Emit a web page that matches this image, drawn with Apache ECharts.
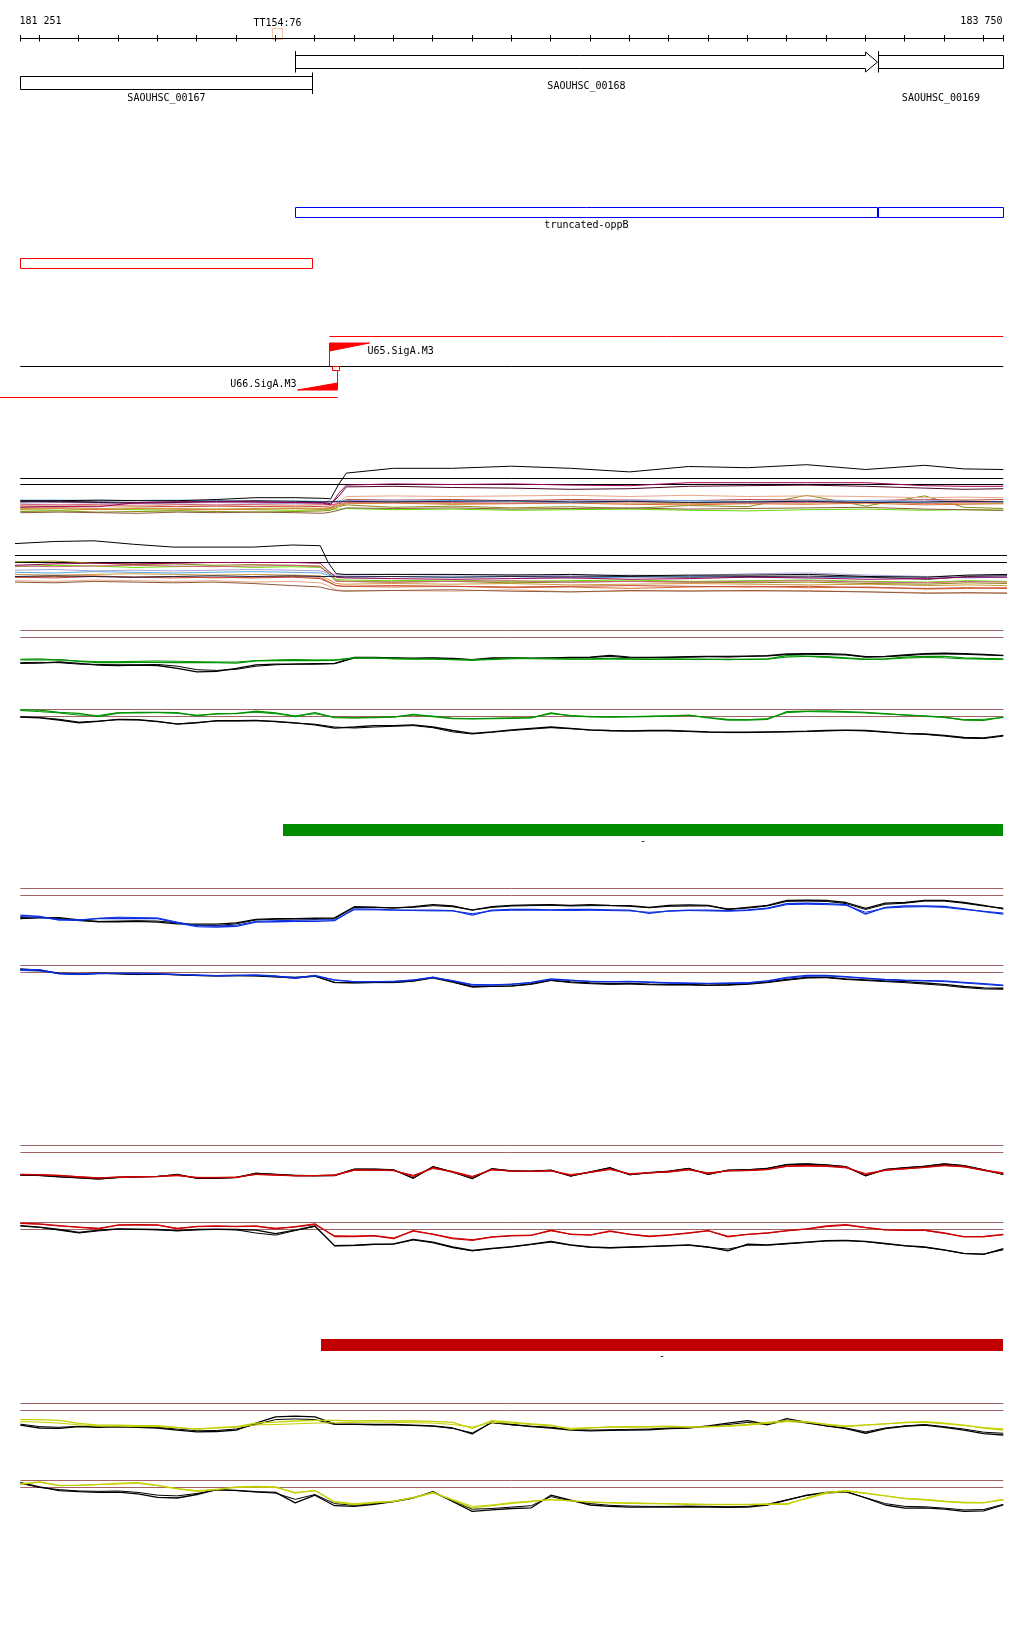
<!DOCTYPE html>
<html>
<head>
<meta charset="utf-8">
<title>Genome browser tracks</title>
<script src="https://cdn.jsdelivr.net/npm/echarts@6/dist/echarts.min.js"></script>
<style>
html,body{margin:0;padding:0;background:#ffffff;}
#chart{width:1024px;height:1640px;}
</style>
</head>
<body>
<div id="chart"></div>
<script>
// ===================== DATA =====================
const VIEW_START = 181251;
const VIEW_END = 183750;
const rulerTicks = [181300,181400,181500,181600,181700,181800,181900,182000,182100,182200,182300,182400,182500,182600,182700,182800,182900,183000,183100,183200,183300,183400,183500,183600,183700];
const rulerEndLabels = ['181 251', '183 750'];
const markerName = 'TT154:76';
const markerRange = [181893, 181918];

const geneNames = ['SAOUHSC_00167', 'SAOUHSC_00168', 'SAOUHSC_00169'];
const geneStart = [181100, 181950, 183434];
const geneEnd = [181993, 183430, 183900];
const geneStrand = [-1, 1, 1];

const oppBName = 'truncated-oppB';
const oppBStart = [181950, 183432];
const oppBEnd = [183430, 183750];

const regionStart = [181251];
const regionEnd = [181994];

const promoterNames = ['U65.SigA.M3', 'U66.SigA.M3'];
const promoterTss = [182036, 182058];
const promoterStrand = [1, -1];
const promoterReach = [183750, 181100];
const tssBox = [182044, 182063];

const greenBlock = [181920, 183750];
const redBlock = [182016, 183750];
const blockLabel = '-';

const refLevels = [10, 9];

// positions (bp) for the dense panels
const denseX = [181251,181350,181450,181550,181650,181750,181850,181950,182020,182040,182060,182080,182200,182350,182500,182650,182800,182950,183100,183250,183400,183550,183650,183750];

// dense panel A
const dA_black   = [6.3,6.3,6.4,6.3,6.3,6.5,6.8,6.8,6.7,6.6,9.0,10.9,11.7,11.7,12.05,11.7,11.1,12.0,11.8,12.3,11.5,12.2,11.6,11.5];
const dA_magenta = [5.2,5.3,5.3,6.0,6.1,6.1,6.1,6.0,5.9,5.6,7.5,8.9,9.1,9.0,9.1,8.9,8.8,9.3,9.3,9.3,9.3,8.8,8.7,8.7];
const dA_maroon  = [6.2,6.1,6.0,5.9,6.0,6.2,6.1,6.0,6.0,5.8,7.0,8.6,8.7,8.5,8.4,8.2,8.3,8.7,8.8,8.9,8.7,8.4,8.2,8.3];
const dA_sky     = [6.4,6.4,6.3,6.35,6.4,6.3,6.2,6.25,6.2,6.1,6.3,6.2,6.2,6.3,6.2,6.0,6.2,6.3,6.1,6.2,6.3,6.0,6.2,6.1];
const dA_orange  = [4.9,5.0,4.8,5.0,4.9,4.8,4.9,5.0,4.9,5.0,5.5,5.8,5.9,5.7,5.8,5.9,5.7,5.6,5.8,5.7,5.9,5.6,5.7,5.8];
const dA_olive   = [4.5,4.6,4.4,4.5,4.6,4.5,4.4,4.5,4.6,4.7,5.3,5.6,5.2,5.4,5.1,5.3,5.0,5.5,5.3,7.2,5.4,7.1,5.2,5.0];
const dA_lime    = [4.8,4.7,4.9,4.8,4.7,4.9,4.8,4.7,4.8,4.9,4.9,5.0,4.8,4.9,4.7,4.8,4.9,4.7,4.6,4.8,4.9,4.7,4.8,4.7];
const dA_salmon  = [5.5,5.6,5.5,5.4,5.6,5.5,5.6,5.5,5.6,5.5,6.0,7.0,7.1,7.0,7.1,7.2,7.0,7.2,7.0,7.1,7.0,6.8,6.9,6.8];
const dA_brick   = [5.4,5.3,5.5,5.4,5.3,5.4,5.3,5.4,5.3,5.2,5.9,6.5,6.4,6.5,6.3,6.5,6.4,6.3,6.5,6.4,6.3,6.5,6.4,6.5];
const dA_lavender= [5.9,6.0,5.9,5.8,5.9,6.0,5.9,5.8,5.9,6.0,6.1,6.3,6.4,6.3,6.2,6.3,6.4,6.3,6.2,6.4,6.3,6.4,6.1,6.2];
const dA_tan     = [5.0,5.1,5.0,5.1,5.0,4.9,5.0,5.1,5.0,5.1,5.6,5.9,6.0,5.8,5.9,6.0,5.9,5.8,6.0,5.9,6.1,5.8,5.9,5.8];
const dA_brown   = [4.3,4.4,4.3,4.2,4.4,4.3,4.4,4.3,4.2,4.4,4.7,5.1,5.0,5.1,4.9,5.0,5.1,4.9,5.0,5.1,5.2,4.9,4.8,4.7];
const dA_navy    = [6.1,6.2,6.1,6.0,6.1,6.2,6.3,6.2,6.1,6.2,6.1,6.2,6.1,6.2,6.3,6.1,6.2,6.0,6.1,6.2,6.0,6.1,6.2,6.1];
const dA_pink    = [5.7,5.6,5.7,5.8,5.7,5.6,5.7,5.8,5.7,5.6,5.8,6.0,6.1,6.0,5.9,6.0,6.1,6.0,5.9,6.0,6.1,5.9,6.0,6.1];

// dense panel B
const dB_black   = [11.7,12.0,12.1,11.6,11.2,11.2,11.2,11.5,11.4,9.0,7.4,7.3,7.3,7.3,7.2,7.3,7.1,7.2,7.2,7.3,7.0,6.9,7.2,7.3];
const dB_magenta = [8.6,8.8,8.9,8.8,8.9,9.0,9.0,9.0,8.9,7.8,6.9,6.8,6.7,6.6,6.7,6.8,6.6,6.7,6.9,6.8,6.6,6.7,6.9,6.9];
const dB_olive   = [9.1,9.2,8.9,8.7,8.8,8.6,8.7,8.6,8.5,7.5,6.4,6.3,6.2,6.3,6.1,6.2,6.3,6.2,6.1,6.2,6.0,5.9,6.1,6.0];
const dB_lime    = [8.4,8.6,8.5,8.3,8.4,8.5,8.3,8.4,8.3,7.6,6.6,6.5,6.4,6.5,6.3,6.4,6.5,6.3,6.4,6.5,6.3,6.2,6.4,6.3];
const dB_sky     = [7.6,7.5,7.7,7.6,7.5,7.6,7.7,7.6,7.5,7.2,7.0,6.9,7.0,6.9,7.0,6.8,6.9,7.0,6.9,6.8,6.9,7.0,6.8,6.9];
const dB_orange  = [6.9,7.0,7.1,6.9,7.0,6.8,6.9,7.0,6.9,6.3,5.7,5.6,5.5,5.6,5.4,5.5,5.3,5.5,5.6,5.4,5.5,5.2,5.3,5.4];
const dB_salmon  = [6.4,6.3,6.5,6.4,6.3,6.4,6.2,6.3,6.1,5.7,5.1,5.0,5.0,4.9,5.1,4.8,4.9,5.0,4.9,5.0,4.8,4.7,4.6,4.7];
const dB_brown   = [6.2,6.1,6.3,6.2,6.1,6.2,6.0,5.7,5.5,5.2,5.0,4.9,5.0,5.1,4.9,4.8,5.0,4.9,5.0,4.9,4.8,4.6,4.7,4.6];
const dB_lavender= [7.9,8.0,7.8,7.9,7.8,7.9,8.0,7.9,7.8,7.5,7.2,7.2,7.3,7.2,7.3,7.1,7.2,7.1,7.4,7.5,7.2,7.0,7.1,7.2];
const dB_brick   = [6.9,6.8,7.0,6.9,6.8,6.9,6.8,6.9,6.7,6.2,5.7,5.6,5.7,5.6,5.5,5.6,5.7,5.6,5.5,5.6,5.4,5.3,5.4,5.3];
const dB_tan     = [7.3,7.2,7.3,7.4,7.3,7.2,7.3,7.2,7.1,6.6,6.0,5.9,6.0,5.9,6.0,5.8,5.9,6.0,5.9,5.8,5.9,5.7,5.8,5.7];
const dB_navy    = [7.0,7.1,7.0,6.9,7.0,7.1,7.0,7.1,7.0,7.0,7.0,6.95,7.0,6.9,7.0,6.95,7.0,6.9,7.0,7.05,6.9,6.6,7.0,7.1];
const dB_pink    = [8.5,8.4,8.5,8.6,8.5,8.4,8.5,8.6,8.4,7.4,6.3,6.3,6.2,6.3,6.4,6.2,6.3,6.2,6.3,6.4,6.2,6.1,6.3,6.2];

// positions (bp) for the coloured replicate panels
const xs = [181251,181300,181350,181400,181450,181500,181550,181600,181650,181700,181750,181800,181850,181900,181950,182000,182050,182100,182150,182200,182250,182300,182350,182400,182450,182500,182550,182600,182650,182700,182750,182800,182850,182900,182950,183000,183050,183100,183150,183200,183250,183300,183350,183400,183450,183500,183550,183600,183650,183700,183750];

// green panels
const greenUpA = [5.8,5.8,5.85,5.6,5.4,5.4,5.45,5.45,5.4,5.4,5.4,5.35,5.65,5.7,5.75,5.7,5.75,6.1,6.1,6.0,5.95,5.9,5.85,5.8,5.9,6.05,6.0,6.0,5.95,5.95,6.0,5.95,5.9,5.95,5.9,5.9,5.85,5.9,5.95,6.4,6.35,6.25,6.1,5.9,5.95,6.2,6.3,6.3,6.1,6.0,5.95];
const greenUpB = [5.9,5.95,5.8,5.65,5.55,5.55,5.6,5.65,5.6,5.55,5.5,5.5,5.7,5.8,5.85,5.8,5.8,6.05,6.05,5.95,5.9,5.95,5.85,5.75,5.85,5.95,6.0,5.95,5.9,5.9,5.95,5.9,5.85,5.9,5.85,5.85,5.9,5.85,5.9,6.2,6.3,6.15,6.0,5.85,5.9,6.05,6.15,6.1,5.95,5.9,5.85];
const greenUpK1 = [5.29,5.35,5.5,5.3,5.05,5.0,5.05,5.0,4.6,4.1,4.15,4.6,5.1,5.2,5.2,5.25,5.3,6.15,6.15,6.1,6.05,6.1,6.0,5.85,6.1,6.1,6.05,6.1,6.15,6.2,6.45,6.2,6.15,6.2,6.25,6.3,6.3,6.35,6.4,6.65,6.7,6.7,6.6,6.25,6.3,6.5,6.7,6.75,6.7,6.6,6.45];
const greenUpK2 = [5.4,5.45,5.4,5.2,5.15,5.1,5.1,5.15,4.9,4.4,4.3,4.45,4.9,5.1,5.2,5.2,5.25,6.05,6.1,6.05,6.0,6.05,5.95,5.8,6.0,6.05,6.0,6.05,6.1,6.15,6.3,6.1,6.1,6.15,6.2,6.25,6.2,6.3,6.35,6.55,6.6,6.55,6.5,6.2,6.25,6.4,6.6,6.65,6.6,6.5,6.4];
const greenLoA = [9.95,9.9,9.6,9.45,9.0,9.5,9.6,9.6,9.55,9.1,9.4,9.4,9.75,9.5,9.0,9.55,8.85,8.8,8.85,8.9,9.3,9.0,8.7,8.65,8.7,8.75,8.8,9.5,9.1,8.95,8.9,8.95,9.0,9.1,9.2,8.8,8.5,8.5,8.6,9.7,9.75,9.8,9.7,9.6,9.4,9.2,9.1,8.9,8.5,8.45,8.9];
const greenLoB = [9.85,9.7,9.5,9.2,9.15,9.55,9.5,9.55,9.45,9.2,9.35,9.45,9.6,9.4,9.1,9.4,8.9,8.8,8.9,8.95,9.2,9.05,8.75,8.7,8.75,8.8,8.85,9.4,9.15,9.0,8.95,9.0,9.05,9.05,9.15,8.85,8.6,8.55,8.7,9.55,9.7,9.65,9.6,9.5,9.35,9.25,9.05,8.85,8.55,8.6,8.85];
const greenLoK1 = [8.9,8.8,8.5,8.1,8.3,8.6,8.55,8.3,7.9,8.1,8.4,8.4,8.45,8.3,8.1,7.8,7.35,7.5,7.7,7.7,7.8,7.5,7.0,6.6,6.8,7.1,7.3,7.5,7.3,7.1,7.0,6.95,7.0,7.0,6.9,6.8,6.75,6.75,6.8,6.85,6.9,7.0,7.05,7.0,6.8,6.6,6.5,6.3,6.0,5.95,6.3];
const greenLoK2 = [8.95,8.85,8.6,8.2,8.35,8.55,8.5,8.25,7.95,8.15,8.35,8.35,8.4,8.25,8.05,7.9,7.5,7.35,7.5,7.6,7.7,7.4,6.8,6.5,6.75,7.0,7.2,7.4,7.25,7.05,6.95,6.9,6.95,6.95,6.85,6.75,6.7,6.7,6.75,6.8,6.85,6.95,7.0,6.95,6.75,6.55,6.45,6.2,5.9,5.85,6.2];

// blue panels
const blueUpA = [6.2,6.0,5.5,5.5,5.7,5.75,5.7,5.7,5.1,4.55,4.5,4.6,5.2,5.25,5.3,5.3,5.4,7.1,7.05,6.95,6.9,6.9,6.85,6.2,6.9,7.0,7.0,6.95,7.0,7.0,6.95,6.9,6.45,6.8,6.9,6.9,6.85,6.95,7.2,7.85,7.9,7.85,7.7,6.35,7.3,7.5,7.5,7.45,7.1,6.7,6.35];
const blueUpB = [6.0,5.85,5.6,5.45,5.75,5.9,5.85,5.8,5.2,4.7,4.65,4.75,5.3,5.4,5.45,5.5,5.55,6.95,6.95,6.9,6.85,6.8,6.8,6.4,6.8,6.9,6.9,6.9,6.85,6.9,6.85,6.8,6.6,6.75,6.85,6.8,6.75,6.85,7.1,7.7,7.75,7.7,7.6,6.6,7.2,7.35,7.4,7.3,7.0,6.75,6.5];
const blueUpK1 = [5.7,5.8,5.85,5.5,5.25,5.25,5.3,5.2,4.95,4.9,4.9,5.1,5.6,5.7,5.7,5.75,5.8,7.4,7.35,7.2,7.4,7.7,7.5,6.9,7.4,7.6,7.65,7.7,7.6,7.7,7.6,7.55,7.3,7.6,7.65,7.6,7.0,7.3,7.6,8.3,8.35,8.3,8.0,7.15,7.9,8.0,8.3,8.3,8.0,7.6,7.1];
const blueUpK2 = [5.85,5.9,5.7,5.4,5.3,5.35,5.4,5.35,5.1,4.75,4.7,4.95,5.5,5.6,5.65,5.6,5.7,7.3,7.3,7.25,7.3,7.55,7.4,6.95,7.3,7.5,7.55,7.6,7.5,7.55,7.55,7.45,7.25,7.45,7.5,7.5,7.1,7.2,7.5,8.15,8.2,8.15,7.85,7.0,7.75,7.9,8.2,8.2,7.9,7.5,7.2];
const blueLoA = [9.4,9.4,8.8,8.75,8.85,8.9,8.9,8.85,8.7,8.65,8.55,8.6,8.65,8.5,8.15,8.6,7.9,7.65,7.65,7.7,7.9,8.35,7.8,7.2,7.2,7.3,7.6,8.1,7.9,7.7,7.65,7.7,7.6,7.5,7.45,7.4,7.45,7.5,7.8,8.3,8.6,8.6,8.4,8.2,8.0,7.9,7.85,7.8,7.6,7.4,7.2];
const blueLoB = [9.3,9.2,8.85,8.8,8.9,8.85,8.8,8.8,8.75,8.6,8.5,8.55,8.6,8.45,8.3,8.5,7.95,7.7,7.7,7.75,7.95,8.25,7.85,7.3,7.25,7.35,7.55,8.0,7.85,7.75,7.7,7.75,7.65,7.55,7.5,7.45,7.5,7.55,7.75,8.2,8.45,8.5,8.35,8.15,7.95,7.85,7.8,7.7,7.5,7.3,7.1];
const blueLoK1 = [9.5,9.35,8.9,8.8,8.9,8.85,8.75,8.8,8.7,8.6,8.55,8.6,8.55,8.4,8.3,8.5,7.6,7.55,7.6,7.6,7.8,8.3,7.7,7.0,7.05,7.1,7.4,7.9,7.65,7.5,7.4,7.45,7.35,7.3,7.3,7.2,7.25,7.4,7.65,8.0,8.3,8.35,8.1,7.95,7.8,7.7,7.5,7.3,7.0,6.8,6.75];
const blueLoK2 = [9.45,9.3,8.85,8.7,8.85,8.8,8.7,8.75,8.65,8.55,8.5,8.55,8.5,8.35,8.2,8.45,7.55,7.5,7.55,7.55,7.75,8.2,7.6,6.9,7.0,7.05,7.3,7.85,7.55,7.4,7.3,7.35,7.25,7.2,7.2,7.15,7.2,7.3,7.55,7.9,8.2,8.25,8.0,7.85,7.7,7.55,7.35,7.15,6.85,6.65,6.6];

// red panels
const redUpA = [5.85,5.8,5.7,5.5,5.35,5.5,5.55,5.6,5.75,5.4,5.4,5.45,5.9,5.8,5.7,5.7,5.75,6.5,6.5,6.45,5.6,6.85,6.2,5.5,6.6,6.35,6.3,6.4,5.75,6.2,6.65,5.9,6.1,6.25,6.6,6.0,6.4,6.45,6.6,7.1,7.15,7.1,6.9,5.85,6.5,6.7,6.9,7.2,7.0,6.45,6.0];
const redUpB = [5.9,5.85,5.75,5.55,5.4,5.45,5.5,5.55,5.7,5.45,5.45,5.5,5.85,5.75,5.65,5.7,5.8,6.45,6.45,6.4,5.75,6.7,6.3,5.6,6.5,6.35,6.3,6.35,5.85,6.15,6.55,6.0,6.1,6.2,6.5,6.1,6.35,6.4,6.55,7.0,7.05,7.0,6.8,6.0,6.45,6.65,6.85,7.1,6.95,6.5,6.1];
const redUpK1 = [5.8,5.75,5.55,5.4,5.25,5.45,5.55,5.6,5.8,5.35,5.35,5.45,6.0,5.85,5.7,5.65,5.7,6.6,6.6,6.5,5.35,6.95,6.2,5.3,6.65,6.35,6.3,6.45,5.65,6.2,6.8,5.85,6.1,6.3,6.7,5.9,6.45,6.5,6.7,7.25,7.35,7.2,6.95,5.7,6.55,6.8,7.0,7.35,7.1,6.5,5.9];
const redUpK2 = [5.75,5.7,5.5,5.35,5.2,5.4,5.5,5.55,5.9,5.3,5.3,5.4,6.05,5.9,5.75,5.7,5.75,6.65,6.65,6.55,5.3,7.0,6.25,5.25,6.7,6.4,6.35,6.5,5.6,6.25,6.85,5.8,6.15,6.35,6.75,5.85,6.5,6.55,6.75,7.3,7.4,7.25,7.0,5.65,6.6,6.85,7.05,7.4,7.15,6.55,5.85];
const redLoA = [9.9,9.8,9.55,9.3,9.1,9.65,9.7,9.65,9.1,9.45,9.5,9.45,9.5,9.1,9.4,9.8,8.0,8.0,8.1,7.7,8.85,8.3,7.7,7.45,7.9,8.1,8.15,8.9,8.3,8.2,8.8,8.3,8.0,8.2,8.5,8.85,7.95,8.3,8.5,8.85,9.1,9.5,9.7,9.3,8.95,8.9,8.9,8.5,7.95,8.0,8.3];
const redLoB = [9.85,9.75,9.5,9.35,9.2,9.6,9.65,9.6,9.2,9.4,9.45,9.4,9.45,9.2,9.35,9.7,8.1,8.05,8.15,7.8,8.75,8.35,7.8,7.55,7.95,8.15,8.2,8.8,8.35,8.25,8.7,8.35,8.05,8.25,8.5,8.8,8.05,8.3,8.5,8.8,9.05,9.4,9.6,9.25,8.95,8.85,8.85,8.45,8.0,7.95,8.25];
const redLoK1 = [9.55,9.35,9.0,8.6,8.9,9.1,9.05,9.0,8.85,9.0,9.05,9.0,8.9,8.4,8.9,9.5,6.7,6.75,6.9,6.95,7.6,7.2,6.5,6.0,6.3,6.55,6.9,7.3,6.8,6.5,6.4,6.5,6.6,6.7,6.8,6.5,5.95,6.9,6.8,7.0,7.2,7.4,7.45,7.3,7.0,6.7,6.5,6.1,5.6,5.45,6.25];
const redLoK2 = [9.5,9.3,8.9,8.5,8.8,9.05,9.0,8.95,8.8,8.95,9.0,8.95,8.5,8.2,8.85,9.45,6.65,6.7,6.85,6.9,7.5,7.1,6.4,5.95,6.25,6.5,6.85,7.2,6.75,6.45,6.35,6.45,6.55,6.65,6.75,6.45,6.2,6.75,6.75,6.95,7.15,7.35,7.4,7.25,6.95,6.65,6.45,6.05,5.55,5.5,6.1];

// yellow panels
const yelUpA = [7.7,7.7,7.6,7.15,6.9,6.9,6.85,6.85,6.6,6.3,6.55,6.7,7.2,7.35,7.5,7.6,7.6,7.5,7.55,7.5,7.5,7.45,7.3,6.45,7.55,7.35,7.1,6.9,6.3,6.5,6.65,6.7,6.7,6.75,6.65,6.7,6.8,7.0,7.3,7.55,7.4,7.0,6.7,6.9,7.1,7.3,7.4,7.2,6.9,6.5,6.2];
const yelUpB = [7.4,7.35,7.2,6.95,6.75,6.75,6.7,6.7,6.5,6.4,6.5,6.6,6.95,7.0,7.1,7.2,7.25,7.3,7.35,7.3,7.25,7.2,7.0,6.65,7.3,7.2,7.0,6.8,6.45,6.55,6.6,6.6,6.65,6.7,6.6,6.65,6.75,6.9,7.15,7.4,7.3,7.05,6.8,6.95,7.1,7.25,7.3,7.1,6.85,6.55,6.4];
const yelUpK1 = [6.9,6.5,6.45,6.7,6.6,6.65,6.6,6.5,6.2,5.95,6.0,6.2,7.2,8.1,8.2,8.1,7.1,7.05,7.0,7.0,6.9,6.8,6.5,5.65,7.35,7.0,6.7,6.5,6.2,6.1,6.15,6.2,6.25,6.4,6.5,6.8,7.2,7.55,7.0,7.85,7.3,6.8,6.4,5.75,6.4,6.75,6.9,6.6,6.2,5.7,5.5];
const yelUpK2 = [7.05,6.7,6.6,6.75,6.7,6.75,6.7,6.6,6.35,6.1,6.15,6.35,7.0,7.7,7.8,7.7,7.0,7.0,6.95,6.95,6.85,6.75,6.45,5.8,7.25,6.95,6.75,6.6,6.3,6.2,6.25,6.3,6.35,6.5,6.55,6.75,7.0,7.3,6.95,7.6,7.2,6.8,6.5,5.95,6.5,6.8,7.0,6.7,6.35,5.9,5.75];
const yelLoA = [9.5,9.8,9.3,9.35,9.45,9.6,9.7,9.3,8.8,8.45,8.7,9.1,9.15,9.1,8.2,8.6,6.9,6.55,6.8,7.0,7.6,8.3,7.2,6.1,6.4,6.75,7.0,7.3,7.1,6.9,6.8,6.75,6.7,6.65,6.6,6.55,6.55,6.55,6.6,6.6,7.5,8.3,8.55,8.2,7.8,7.4,7.25,7.0,6.8,6.8,7.3];
const yelLoB = [9.45,9.75,9.25,9.3,9.4,9.5,9.6,9.25,8.85,8.55,8.75,9.0,9.05,9.0,8.3,8.55,7.0,6.7,6.9,7.05,7.5,8.2,7.3,6.3,6.5,6.85,7.05,7.25,7.1,6.95,6.85,6.8,6.75,6.7,6.65,6.6,6.6,6.6,6.65,6.7,7.4,8.15,8.45,8.15,7.8,7.45,7.3,7.05,6.9,6.85,7.2];
const yelLoK1 = [9.7,9.1,8.55,8.4,8.3,8.35,8.1,7.6,7.5,8.0,8.7,8.6,8.4,8.3,6.8,7.9,6.4,6.3,6.6,7.0,7.5,8.4,7.0,5.6,5.8,6.0,6.1,7.9,7.2,6.5,6.3,6.2,6.2,6.2,6.25,6.2,6.15,6.2,6.5,7.2,7.9,8.3,8.45,7.5,6.5,6.05,6.1,5.9,5.6,5.65,6.5];
const yelLoK2 = [9.6,9.0,8.7,8.5,8.45,8.5,8.3,7.9,7.8,8.15,8.65,8.55,8.35,8.2,7.3,8.0,6.7,6.45,6.7,7.0,7.55,8.3,7.1,5.9,6.0,6.2,6.4,7.7,7.1,6.7,6.45,6.35,6.3,6.3,6.35,6.3,6.25,6.3,6.6,7.25,7.85,8.2,8.35,7.55,6.7,6.3,6.25,6.05,5.8,5.85,6.6];

// ===================== STYLE / LAYOUT =====================
const FONT = {fontFamily: '"DejaVu Sans Mono", monospace', fontSize: 10, fill: '#000'};
const L = {
  rulerY: 38.5, tickTop: 35, tickBot: 41.5, rulerLabelY: 21.5,
  markerTop: 28.5, markerBot: 39.5, markerLabelY: 23,
  fwd: [55.5, 68.5], rev: [76.5, 89.5], fwdTick: [51, 72.5], revTick: [72.5, 94],
  headLen: 12, headHalf: 10, geneLabelY: [98.5, 86, 98.5],
  oppB: [207.5, 217.5], oppBLabelY: 225.5,
  region: [258.5, 268.5],
  centerY: 366.5, fwdLineY: 336.5, revLineY: 397.5,
  fwdFlag: [343, 351], revFlag: [390, 383], flagLen: 40,
  fwdStem: [343, 366.5], revStem: [370.5, 390],
  fwdLabelDx: 38, revLabelDx: -41, fwdLabelY: 351.5, revLabelY: 384.5,
  tssBox: [366.5, 370.5]
};
const COL = {
  black: '#000000', magenta: '#a0005a', maroon: '#4a0a2a', sky: '#5aaae0', orange: '#e06a30',
  olive: '#8a8a10', lime: '#66dd00', salmon: '#e8a888', brick: '#c04838', lavender: '#a8a0d8',
  tan: '#d09a40', brown: '#8a5a3a', navy: '#202040', pink: '#d06080',
  ref: '#a06464', green: '#009400', blue: '#0a2ee0', red: '#cc0000', yellow: '#c4d000',
  geneBlue: '#0000f0', featRed: '#ff0000', marker: '#f6c4a6', blockGreen: '#008c00', blockRed: '#c00000'
};

// ===================== BUILD =====================
const grids = [], xAxes = [], yAxes = [], series = [];
function addGrid(g, ymin, ymax, inverse) {
  const idx = grids.length;
  grids.push(Object.assign({show: false, containLabel: false}, g));
  xAxes.push({type: 'value', gridIndex: idx, min: VIEW_START, max: VIEW_END, show: false});
  yAxes.push({type: 'value', gridIndex: idx, min: ymin, max: ymax, inverse: !!inverse, show: false});
  return idx;
}
const crisp = v => Math.round(v - 0.5) + 0.5;

function lineSeries(gi, xArr, yArr, color, width) {
  return {
    type: 'line', xAxisIndex: gi, yAxisIndex: gi, data: xArr.map((x, k) => [x, yArr[k]]),
    showSymbol: false, symbol: 'none', clip: false, silent: true, animation: false,
    lineStyle: {color: color, width: width || 1}, itemStyle: {color: color}
  };
}
function refSeries(gi, level, color) {
  return lineSeries(gi, [VIEW_START, VIEW_END], [level, level], color, 1);
}

// ---- annotation grid (layout units == px rows) ----
const ANN = addGrid({left: 20.3, right: 20.7, top: 0, height: 420}, 0, 420, true);

series.push({
  type: 'custom', xAxisIndex: ANN, yAxisIndex: ANN, clip: false, silent: true,
  data: [[VIEW_START, VIEW_END]],
  renderItem: function (params, api) {
    const a = crisp(api.coord([api.value(0), 0])[0]);
    const b = crisp(api.coord([api.value(1), 0])[0]);
    const y = api.coord([VIEW_START, L.rulerY])[1];
    const t0 = api.coord([VIEW_START, L.tickTop])[1], t1 = api.coord([VIEW_START, L.tickBot])[1];
    const ly = api.coord([VIEW_START, L.rulerLabelY])[1];
    return {type: 'group', children: [
      {type: 'line', shape: {x1: a, y1: y, x2: b, y2: y}, style: {stroke: '#000', lineWidth: 1}},
      {type: 'line', shape: {x1: a, y1: t0, x2: a, y2: t1}, style: {stroke: '#000', lineWidth: 1}},
      {type: 'line', shape: {x1: b, y1: t0, x2: b, y2: t1}, style: {stroke: '#000', lineWidth: 1}},
      {type: 'text', style: Object.assign({text: rulerEndLabels[0], x: a - 1, y: ly, align: 'left', verticalAlign: 'middle'}, FONT)},
      {type: 'text', style: Object.assign({text: rulerEndLabels[1], x: b - 1, y: ly, align: 'right', verticalAlign: 'middle'}, FONT)}
    ]};
  }
});
series.push({
  type: 'custom', xAxisIndex: ANN, yAxisIndex: ANN, clip: false, silent: true,
  data: rulerTicks.map(t => [t, t]),
  renderItem: function (params, api) {
    const x = crisp(api.coord([api.value(0), 0])[0]);
    const t0 = api.coord([VIEW_START, L.tickTop])[1], t1 = api.coord([VIEW_START, L.tickBot])[1];
    return {type: 'line', shape: {x1: x, y1: t0, x2: x, y2: t1}, style: {stroke: '#000', lineWidth: 1}};
  }
});
series.push({
  type: 'custom', xAxisIndex: ANN, yAxisIndex: ANN, clip: false, silent: true,
  data: [[markerRange[0], markerRange[1]]],
  renderItem: function (params, api) {
    const a = crisp(api.coord([api.value(0), 0])[0]);
    const b = crisp(api.coord([api.value(1), 0])[0]);
    const yt = api.coord([VIEW_START, L.markerTop])[1], yb = api.coord([VIEW_START, L.markerBot])[1];
    const ly = api.coord([VIEW_START, L.markerLabelY])[1];
    return {type: 'group', children: [
      {type: 'rect', shape: {x: a, y: yt, width: b - a, height: yb - yt}, style: {fill: 'none', stroke: COL.marker, lineWidth: 1}, z2: -1},
      {type: 'text', style: Object.assign({text: markerName, x: (a + b) / 2, y: ly, align: 'center', verticalAlign: 'middle'}, FONT)}
    ]};
  }
});
series.push({
  type: 'custom', xAxisIndex: ANN, yAxisIndex: ANN, clip: false, silent: true,
  data: geneNames.map((n, i) => [geneStart[i], geneEnd[i]]),
  renderItem: function (params, api) {
    const i = params.dataIndex;
    const s0 = api.value(0), e0 = api.value(1);
    const xa = crisp(api.coord([Math.max(s0, VIEW_START), 0])[0]);
    const xb = crisp(api.coord([Math.min(e0, VIEW_END), 0])[0]);
    const strand = geneStrand[i];
    const lane = strand > 0 ? L.fwd : L.rev;
    const yt = api.coord([VIEW_START, lane[0]])[1], yb = api.coord([VIEW_START, lane[1]])[1];
    const ym = (yt + yb) / 2;
    let pts;
    if (strand > 0 && e0 <= VIEW_END) {
      const hb = xb - L.headLen;
      pts = [[xa, yt], [hb, yt], [hb, ym - L.headHalf], [xb, ym], [hb, ym + L.headHalf], [hb, yb], [xa, yb]];
    } else if (strand < 0 && s0 >= VIEW_START) {
      const hb = xa + L.headLen;
      pts = [[xb, yt], [hb, yt], [hb, ym - L.headHalf], [xa, ym], [hb, ym + L.headHalf], [hb, yb], [xb, yb]];
    } else {
      pts = [[xa, yt], [xb, yt], [xb, yb], [xa, yb]];
    }
    const children = [{type: 'polygon', shape: {points: pts}, style: {fill: '#fff', stroke: '#000', lineWidth: 1}}];
    const startBp = strand > 0 ? s0 : e0;
    if (startBp >= VIEW_START && startBp <= VIEW_END) {
      const sx = crisp(api.coord([startBp, 0])[0]);
      const tk = strand > 0 ? L.fwdTick : L.revTick;
      children.push({type: 'line', shape: {x1: sx, y1: api.coord([VIEW_START, tk[0]])[1], x2: sx, y2: api.coord([VIEW_START, tk[1]])[1]}, style: {stroke: '#000', lineWidth: 1}});
    }
    children.push({type: 'text', style: Object.assign({text: geneNames[i], x: (xa + xb) / 2, y: api.coord([VIEW_START, L.geneLabelY[i]])[1], align: 'center', verticalAlign: 'middle'}, FONT)});
    return {type: 'group', children: children};
  }
});
series.push({
  type: 'custom', xAxisIndex: ANN, yAxisIndex: ANN, clip: false, silent: true,
  data: oppBStart.map((s, i) => [s, oppBEnd[i]]),
  renderItem: function (params, api) {
    const xa = crisp(api.coord([api.value(0), 0])[0]);
    const xb = crisp(api.coord([api.value(1), 0])[0]);
    const yt = api.coord([VIEW_START, L.oppB[0]])[1], yb = api.coord([VIEW_START, L.oppB[1]])[1];
    const children = [{type: 'rect', shape: {x: xa, y: yt, width: xb - xa, height: yb - yt}, style: {fill: 'none', stroke: COL.geneBlue, lineWidth: 1}}];
    if (params.dataIndex === 0) {
      children.push({type: 'text', style: Object.assign({text: oppBName, x: (xa + xb) / 2, y: api.coord([VIEW_START, L.oppBLabelY])[1], align: 'center', verticalAlign: 'middle'}, FONT)});
    }
    return {type: 'group', children: children};
  }
});
series.push({
  type: 'custom', xAxisIndex: ANN, yAxisIndex: ANN, clip: false, silent: true,
  data: regionStart.map((s, i) => [s, regionEnd[i]]),
  renderItem: function (params, api) {
    const xa = crisp(api.coord([api.value(0), 0])[0]);
    const xb = crisp(api.coord([api.value(1), 0])[0]);
    const yt = api.coord([VIEW_START, L.region[0]])[1], yb = api.coord([VIEW_START, L.region[1]])[1];
    return {type: 'rect', shape: {x: xa, y: yt, width: xb - xa, height: yb - yt}, style: {fill: 'none', stroke: COL.featRed, lineWidth: 1}};
  }
});
series.push({
  type: 'custom', xAxisIndex: ANN, yAxisIndex: ANN, clip: false, silent: true,
  data: [[VIEW_START, VIEW_END]],
  renderItem: function (params, api) {
    const a = api.coord([api.value(0), 0])[0], b = api.coord([api.value(1), 0])[0];
    const y = api.coord([VIEW_START, L.centerY])[1];
    return {type: 'line', shape: {x1: a, y1: y, x2: b, y2: y}, style: {stroke: '#000', lineWidth: 1}};
  }
});
series.push({
  type: 'custom', xAxisIndex: ANN, yAxisIndex: ANN, clip: false, silent: true,
  data: promoterTss.map((t, i) => [t, promoterReach[i]]),
  renderItem: function (params, api) {
    const i = params.dataIndex;
    const T = crisp(api.coord([api.value(0), 0])[0]);
    const R = api.coord([api.value(1), 0])[0];
    const Y = v => api.coord([VIEW_START, v])[1];
    const fwd = promoterStrand[i] > 0;
    const stem = fwd ? L.fwdStem : L.revStem;
    const flag = fwd ? L.fwdFlag : L.revFlag;
    const dir = fwd ? 1 : -1;
    const lineY = fwd ? L.fwdLineY : L.revLineY;
    return {type: 'group', children: [
      {type: 'line', shape: {x1: T, y1: Y(lineY), x2: R, y2: Y(lineY)}, style: {stroke: COL.featRed, lineWidth: 1}},
      {type: 'line', shape: {x1: T, y1: Y(stem[0]), x2: T, y2: Y(stem[1])}, style: {stroke: COL.featRed, lineWidth: 1}},
      {type: 'polygon', shape: {points: [[T, Y(flag[0])], [T + dir * L.flagLen, Y(flag[0])], [T, Y(flag[1])]]}, style: {fill: COL.featRed, stroke: COL.featRed, lineWidth: 1}},
      {type: 'text', style: Object.assign({text: promoterNames[i], x: T + (fwd ? L.fwdLabelDx : L.revLabelDx), y: Y(fwd ? L.fwdLabelY : L.revLabelY), align: fwd ? 'left' : 'right', verticalAlign: 'middle'}, FONT)}
    ]};
  }
});
series.push({
  type: 'custom', xAxisIndex: ANN, yAxisIndex: ANN, clip: false, silent: true,
  data: [[tssBox[0], tssBox[1]]],
  renderItem: function (params, api) {
    const xa = crisp(api.coord([api.value(0), 0])[0]);
    const xb = crisp(api.coord([api.value(1), 0])[0]);
    const yt = api.coord([VIEW_START, L.tssBox[0]])[1], yb = api.coord([VIEW_START, L.tssBox[1]])[1];
    return {type: 'rect', shape: {x: xa, y: yt, width: xb - xa, height: yb - yt}, style: {fill: 'none', stroke: COL.featRed, lineWidth: 1}};
  }
});

// ---- dense panel A ----
const GA = addGrid({left: 20.3, right: 20.7, top: 460.5, height: 60}, 3, 13);
series.push(refSeries(GA, refLevels[0], '#000'), refSeries(GA, refLevels[1], '#000'));
[['lime', dA_lime], ['olive', dA_olive], ['brown', dA_brown], ['orange', dA_orange], ['tan', dA_tan],
 ['brick', dA_brick], ['salmon', dA_salmon], ['pink', dA_pink], ['lavender', dA_lavender], ['sky', dA_sky],
 ['navy', dA_navy], ['maroon', dA_maroon], ['magenta', dA_magenta], ['black', dA_black]]
  .forEach(p => series.push(lineSeries(GA, denseX, p[1], COL[p[0]], 1)));

// ---- dense panel B ----
const GB = addGrid({left: 15, right: 17, top: 534.5, height: 63}, 4, 13);
series.push(refSeries(GB, refLevels[0], '#000'), refSeries(GB, refLevels[1], '#000'));
[['salmon', dB_salmon], ['brown', dB_brown], ['orange', dB_orange], ['brick', dB_brick], ['tan', dB_tan],
 ['lime', dB_lime], ['olive', dB_olive], ['pink', dB_pink], ['sky', dB_sky], ['lavender', dB_lavender],
 ['navy', dB_navy], ['magenta', dB_magenta], ['black', dB_black]]
  .forEach(p => series.push(lineSeries(GB, denseX, p[1], COL[p[0]], 1)));

// ---- coloured replicate panels ----
function replicatePanel(top, color, a, b, k1, k2) {
  const gi = addGrid({left: 20.3, right: 20.7, top: top, height: 49}, 3, 10);
  series.push(refSeries(gi, refLevels[0], COL.ref), refSeries(gi, refLevels[1], COL.ref));
  series.push(lineSeries(gi, xs, k2, COL.black, 1));
  series.push(lineSeries(gi, xs, k1, COL.black, 1.3));
  series.push(lineSeries(gi, xs, b, color, 1));
  series.push(lineSeries(gi, xs, a, color, 1.3));
}
replicatePanel(630.5, COL.green, greenUpA, greenUpB, greenUpK1, greenUpK2);
replicatePanel(709.5, COL.green, greenLoA, greenLoB, greenLoK1, greenLoK2);
replicatePanel(888.5, COL.blue, blueUpA, blueUpB, blueUpK1, blueUpK2);
replicatePanel(965.5, COL.blue, blueLoA, blueLoB, blueLoK1, blueLoK2);
replicatePanel(1145.5, COL.red, redUpA, redUpB, redUpK1, redUpK2);
replicatePanel(1222.5, COL.red, redLoA, redLoB, redLoK1, redLoK2);
replicatePanel(1403.5, COL.yellow, yelUpA, yelUpB, yelUpK1, yelUpK2);
replicatePanel(1480.5, COL.yellow, yelLoA, yelLoB, yelLoK1, yelLoK2);

// ---- block tracks ----
function blockTrack(top, range, color) {
  const gi = addGrid({left: 20.3, right: 20.7, top: top, height: 12}, 0, 1);
  series.push({
    type: 'custom', xAxisIndex: gi, yAxisIndex: gi, clip: false, silent: true,
    data: [[range[0], range[1]]],
    renderItem: function (params, api) {
      const p0 = api.coord([api.value(0), 1]), p1 = api.coord([api.value(1), 0]);
      const xa = Math.round(p0[0]), xb = Math.round(p1[0]);
      return {type: 'group', children: [
        {type: 'rect', shape: {x: xa, y: p0[1], width: xb - xa, height: p1[1] - p0[1]}, style: {fill: color}},
        {type: 'text', style: Object.assign({text: blockLabel, x: (xa + xb) / 2, y: p1[1] + 5, align: 'center', verticalAlign: 'middle'}, FONT)}
      ]};
    }
  });
}
blockTrack(824, greenBlock, COL.blockGreen);
blockTrack(1339, redBlock, COL.blockRed);

const chart = echarts.init(document.getElementById('chart'), null, {renderer: 'canvas', width: 1024, height: 1640});
chart.setOption({
  animation: false,
  backgroundColor: '#ffffff',
  grid: grids,
  xAxis: xAxes,
  yAxis: yAxes,
  series: series
});
</script>
</body>
</html>
